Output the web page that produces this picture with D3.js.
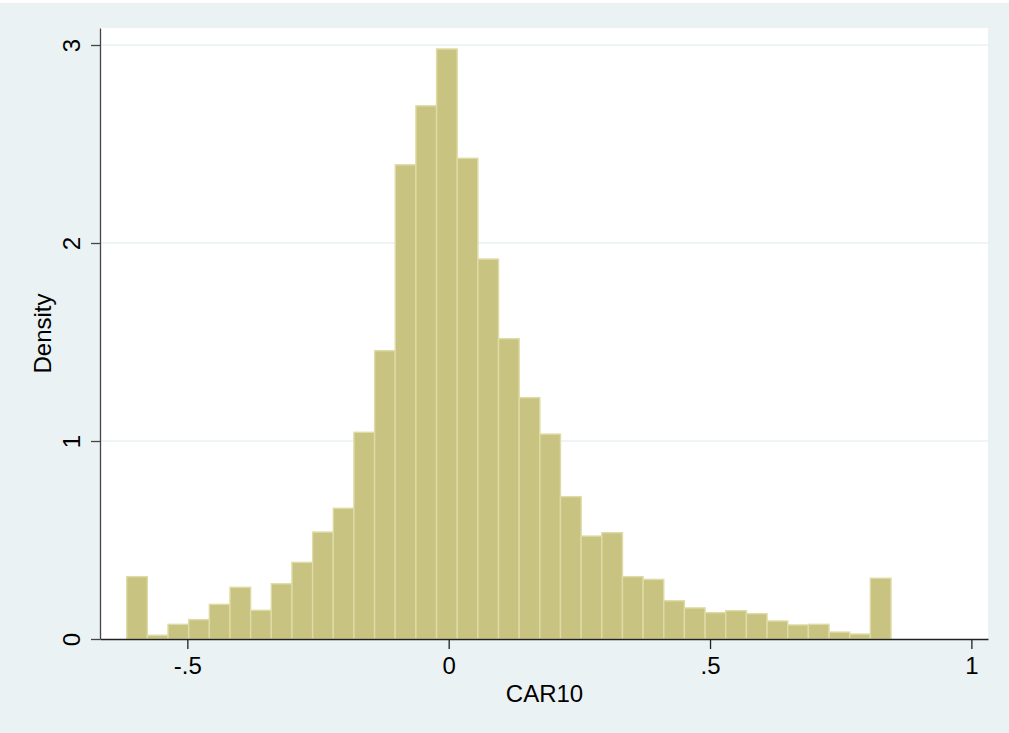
<!DOCTYPE html>
<html>
<head>
<meta charset="utf-8">
<script src="https://cdn.jsdelivr.net/npm/d3@7"></script>
<style>
  body { margin: 0; background: #fff; }
  text { font-family: "Liberation Sans", Arial, Helvetica, sans-serif; fill: #000; }
</style>
</head>
<body>
<script>
// histogram of CAR10, 37 bins
var binStart = -0.616,
  binWidth = 0.03952;

var density = [0.315, 0.019, 0.074, 0.098, 0.175, 0.261, 0.145, 0.279, 0.387, 0.540,
  0.660, 1.044, 1.456, 2.395, 2.693, 2.980, 2.428, 1.919, 1.517, 1.219,
  1.035, 0.719, 0.520, 0.537, 0.315, 0.301, 0.193, 0.157, 0.133, 0.143,
  0.128, 0.091, 0.071, 0.074, 0.035, 0.025, 0.307];

var xTicks = [-0.5, 0, 0.5, 1];
var xTickLabels = ["-.5", "0", ".5", "1"];
var yTicks = [0, 1, 2, 3];
var yTickLabels = ["0", "1", "2", "3"];
var xTitle = "CAR10", yTitle = "Density";

var W = 1009, H = 733;
var plot = { left: 100, top: 28, right: 988, bottom: 639 };

var svg = d3.select("body").append("svg")
  .attr("width", W)
  .attr("height", H);

svg.append("rect")
  .attr("x", 0).attr("y", 3)
  .attr("width", W).attr("height", H - 3)
  .attr("fill", "#eaf2f3");

svg.append("rect")
  .attr("x", plot.left).attr("y", plot.top)
  .attr("width", plot.right - plot.left)
  .attr("height", plot.bottom - plot.top)
  .attr("fill", "#fff");

var x = d3.scaleLinear()
  .domain([-0.6671, 1.0318])
  .range([plot.left, plot.right]);
var y = d3.scaleLinear()
  .domain([0, 3.0859])
  .range([plot.bottom, plot.top]);

// gridlines
svg.append("g").selectAll("line")
  .data(yTicks.filter(function (d) { return d > 0; }))
  .enter().append("line")
  .attr("x1", plot.left).attr("x2", plot.right)
  .attr("y1", function (d) { return y(d); })
  .attr("y2", function (d) { return y(d); })
  .attr("stroke", "#eaf2f3")
  .attr("stroke-width", 1.5);

var bins = density.map(function (d, i) {
  return { x0: binStart + i * binWidth, x1: binStart + (i + 1) * binWidth, v: d };
});

svg.append("g").selectAll("rect")
  .data(bins)
  .enter().append("rect")
  .attr("x", function (d) { return x(d.x0); })
  .attr("y", function (d) { return y(d.v); })
  .attr("width", function (d) { return x(d.x1) - x(d.x0); })
  .attr("height", function (d) { return y(0) - y(d.v); })
  .attr("fill", "#c9c381")
  .attr("stroke", "#dfdba6")
  .attr("stroke-width", 1.4);

// x axis
var xAxis = svg.append("g")
  .attr("transform", "translate(0," + plot.bottom + ")")
  .call(d3.axisBottom(x)
    .tickValues(xTicks)
    .tickFormat(function (d, i) { return xTickLabels[i]; })
    .tickSize(10)
    .tickPadding(8)
    .tickSizeOuter(0));
xAxis.select(".domain").attr("stroke", "#222").attr("stroke-width", 1.3);
xAxis.selectAll(".tick line").attr("stroke", "#222").attr("stroke-width", 1.3);
xAxis.selectAll(".tick text")
  .attr("font-size", 24)
  .attr("font-family", "Liberation Sans, Arial, sans-serif")
  .attr("fill", "#000");

// y axis, labels rotated
var yAxis = svg.append("g")
  .attr("transform", "translate(" + plot.left + ",0)")
  .call(d3.axisLeft(y)
    .tickValues(yTicks)
    .tickFormat(function (d, i) { return yTickLabels[i]; })
    .tickSize(9)
    .tickSizeOuter(0));
yAxis.select(".domain").attr("stroke", "#444").attr("stroke-width", 1.3);
yAxis.selectAll(".tick line").attr("stroke", "#444").attr("stroke-width", 1.3);
yAxis.selectAll(".tick text")
  .attr("font-size", 24)
  .attr("font-family", "Liberation Sans, Arial, sans-serif")
  .attr("fill", "#000")
  .attr("x", null).attr("dy", null)
  .attr("text-anchor", "middle")
  .attr("transform", "translate(-20,0) rotate(-90)");

svg.append("text")
  .attr("x", (x(-0.6671) + x(1.0318)) / 2 + 0.5)
  .attr("y", 702)
  .attr("text-anchor", "middle")
  .attr("font-size", 24)
  .text(xTitle);

svg.append("text")
  .attr("transform", "translate(51," + (plot.top + plot.bottom) / 2 + ") rotate(-90)")
  .attr("text-anchor", "middle")
  .attr("font-size", 24)
  .text(yTitle);
</script>
</body>
</html>
